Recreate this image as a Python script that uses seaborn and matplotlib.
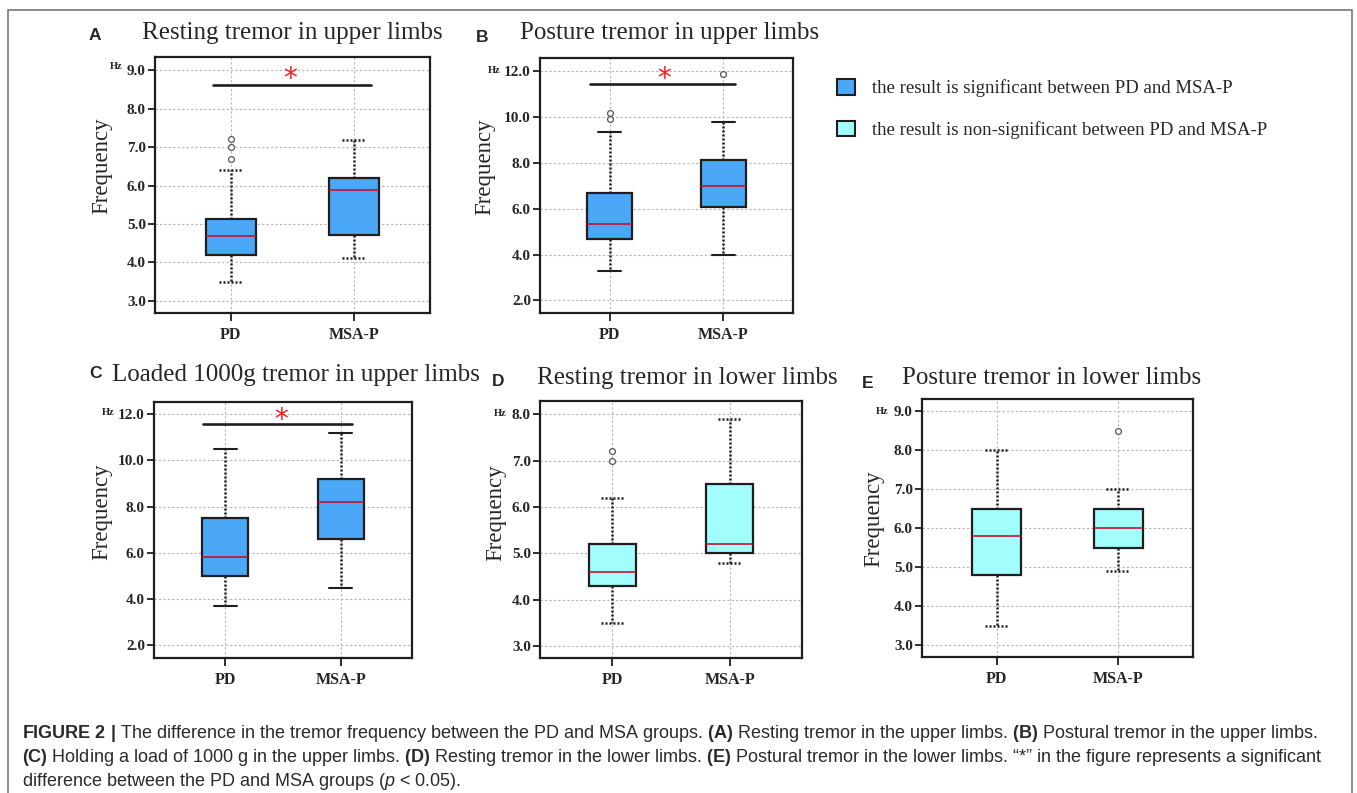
import numpy as np
import pandas as pd
import seaborn as sns
import matplotlib.pyplot as plt
from matplotlib.patches import Patch, Rectangle
from matplotlib.transforms import IdentityTransform

groups = ["PD", "MSA-P"]

# box summaries: [low whisker, Q1, median, Q3, high whisker]
rest_up_pd = [3.5, 4.2, 4.68, 5.14, 6.4]
rest_up_msa = [4.1, 4.7, 5.88, 6.2, 7.2]
rest_up_pd_out = [6.7, 7.0, 7.22]
rest_up_msa_out = []

post_up_pd = [3.3, 4.7, 5.35, 6.7, 9.35]
post_up_msa = [4.0, 6.1, 7.0, 8.15, 9.8]
post_up_pd_out = [9.9, 10.2]
post_up_msa_out = [11.88]

load_up_pd = [3.7, 5.0, 5.8, 7.5, 10.5]
load_up_msa = [4.5, 6.6, 8.2, 9.2, 11.18]
load_up_pd_out = []
load_up_msa_out = []

rest_low_pd = [3.5, 4.3, 4.6, 5.2, 6.2]
rest_low_msa = [4.8, 5.0, 5.2, 6.5, 7.9]
rest_low_pd_out = [7.0, 7.2]
rest_low_msa_out = []

post_low_pd = [3.5, 4.8, 5.8, 6.5, 8.0]
post_low_msa = [4.9, 5.5, 6.0, 6.5, 7.0]
post_low_pd_out = []
post_low_msa_out = [8.5]

titles = ["Resting tremor in upper limbs", "Posture tremor in upper limbs",
          "Loaded 1000g tremor in upper limbs", "Resting tremor in lower limbs",
          "Posture tremor in lower limbs"]
letters = ["A", "B", "C", "D", "E"]
significant = [True, True, True, False, False]
legend_labels = ["the result is significant between PD and MSA-P",
                 "the result is non-significant between PD and MSA-P"]

SIG_COLOR = "#4aa8f7"
NS_COLOR = "#a2fdfd"
LINE = "#1e1e1e"
W, H = 1357, 793

sns.set_style("ticks")
plt.rcParams["font.family"] = ["Liberation Serif", "DejaVu Serif"]
plt.rcParams["mathtext.fontset"] = "custom"
plt.rcParams["mathtext.rm"] = "Liberation Sans"
plt.rcParams["mathtext.bf"] = "Liberation Sans:bold"
plt.rcParams["mathtext.it"] = "Liberation Sans:italic"

fig = plt.figure(figsize=(W / 100, H / 100), dpi=100)

# layout in pixels: axes box (left, top, right, bottom), title centre, letter pos
panels = [
    dict(data=(rest_up_pd, rest_up_msa, rest_up_pd_out, rest_up_msa_out),
         box=(155, 57, 430, 313), ylim=(2.68, 9.35), yticks=np.arange(3, 9.1, 1),
         caps_solid=False, bar=(-0.146, 1.135, 8.62), star=(0.48, 8.78),
         title_xy=(292, 33), letter_xy=(95, 35), hz=(-33, 4), ylab=(-53, 0.575)),
    dict(data=(post_up_pd, post_up_msa, post_up_pd_out, post_up_msa_out),
         box=(540, 58, 793, 313), ylim=(1.45, 12.585), yticks=np.arange(2, 12.1, 2),
         caps_solid=True, bar=(-0.17, 1.105, 11.46), star=(0.48, 11.66),
         title_xy=(670, 33), letter_xy=(482, 37), hz=(-39, 1), ylab=(-55, 0.575)),
    dict(data=(load_up_pd, load_up_msa, load_up_pd_out, load_up_msa_out),
         box=(154, 402, 412, 658), ylim=(1.455, 12.52), yticks=np.arange(2, 12.1, 2),
         caps_solid=True, bar=(-0.19, 1.10, 11.58), star=(0.487, 11.76),
         title_xy=(296, 375), letter_xy=(95, 373), hz=(-39, 2), ylab=(-52, 0.57)),
    dict(data=(rest_low_pd, rest_low_msa, rest_low_pd_out, rest_low_msa_out),
         box=(540, 401, 802, 658), ylim=(2.74, 8.287), yticks=np.arange(3, 8.1, 1),
         caps_solid=False, bar=None, star=None,
         title_xy=(687, 378), letter_xy=(498, 381), hz=(-33, 1), ylab=(-44, 0.566)),
    dict(data=(post_low_pd, post_low_msa, post_low_pd_out, post_low_msa_out),
         box=(922, 399, 1193, 657), ylim=(2.70, 9.32), yticks=np.arange(3, 9.1, 1),
         caps_solid=False, bar=None, star=None,
         title_xy=(1052, 378), letter_xy=(868, 383), hz=(-34, 0), ylab=(-48, 0.535)),
]

dotted = (0, (0.8, 0.8))

for i, p in enumerate(panels):
    l, t, r, b = p["box"]
    ax = fig.add_axes([l / W, 1 - b / H, (r - l) / W, (b - t) / H])
    pd_vals, msa_vals, pd_out, msa_out = p["data"]
    df = pd.DataFrame({"group": ["PD"] * len(pd_vals) + ["MSA-P"] * len(msa_vals),
                       "value": pd_vals + msa_vals})
    color = SIG_COLOR if significant[i] else NS_COLOR
    cap_style = dict(color=LINE, linewidth=1.5, linestyle="-") if p["caps_solid"] \
        else dict(color=LINE, linewidth=1.8, linestyle=dotted)
    sns.boxplot(data=df, x="group", y="value", order=groups, whis=(0, 100),
                width=0.4, color=color, saturation=1, linecolor=LINE, linewidth=1.6,
                whiskerprops=dict(color=LINE, linewidth=1.8, linestyle=dotted),
                capprops=cap_style,
                medianprops=dict(color="#c8102e", linewidth=1.2),
                boxprops=dict(edgecolor=LINE, linewidth=1.6), ax=ax)
    if pd_out or msa_out:
        out_df = pd.DataFrame({"group": ["PD"] * len(pd_out) + ["MSA-P"] * len(msa_out),
                               "value": pd_out + msa_out})
        sns.stripplot(data=out_df, x="group", y="value", order=groups, jitter=False,
                      color="white", edgecolor="#555555", linewidth=0.9, size=4.2,
                      ax=ax, zorder=5)

    ax.set_xlim(-0.615, 1.615)
    ax.set_ylim(*p["ylim"])
    ax.set_yticks(p["yticks"])
    ax.set_yticklabels([f"{v:.1f}" for v in p["yticks"]])
    ax.set_axisbelow(True)
    ax.grid(True, color="#b4b4b4", linestyle=(0, (2, 2)), linewidth=0.8)
    for s in ax.spines.values():
        s.set_visible(True)
        s.set_linewidth(1.6)
        s.set_color(LINE)
    ax.tick_params(axis="y", length=5, width=1.3, pad=1.5, labelsize=11, color=LINE)
    ax.tick_params(axis="x", length=6, width=1.3, pad=4, labelsize=11.5, color=LINE)
    for lab in ax.get_xticklabels() + ax.get_yticklabels():
        lab.set_fontweight("bold")
    ax.set_xlabel("")
    ax.set_ylabel("Frequency", fontsize=16.5, va="center")
    ax.yaxis.set_label_coords(p["ylab"][0] / (r - l), p["ylab"][1])

    ax.annotate("Hz", xy=(0, p["yticks"][-1]), xycoords=("axes fraction", "data"),
                xytext=(p["hz"][0] * 0.72, p["hz"][1] * 0.72), textcoords="offset points",
                ha="right", va="center", fontsize=7.5, fontweight="bold")

    if p["bar"] is not None:
        x0, x1, yb = p["bar"]
        ax.plot([x0, x1], [yb, yb], color=LINE, linewidth=1.9)
        ax.text(p["star"][0], p["star"][1], "*", color="#ff1a1a", fontsize=20,
                ha="center", va="center", family="DejaVu Sans")

    tx, ty = p["title_xy"]
    fig.text(tx, H - ty, titles[i], transform=IdentityTransform(), fontsize=18,
             ha="center", va="center")
    lx, ly = p["letter_xy"]
    fig.text(lx, H - ly, letters[i], transform=IdentityTransform(), fontsize=12.5,
             fontweight="bold", family="Liberation Sans", ha="center", va="center")

handles = [Patch(facecolor=SIG_COLOR, edgecolor=LINE, linewidth=1.5),
           Patch(facecolor=NS_COLOR, edgecolor=LINE, linewidth=1.5)]
fig.legend(handles, legend_labels, loc="upper left", bbox_to_anchor=(837 / W, 1 - 79 / H),
           frameon=False, fontsize=13.5, handlelength=0.97, handleheight=0.9,
           handletextpad=0.88, labelspacing=1.25, borderpad=0, borderaxespad=0)

caption = [
    r"$\mathbf{FIGURE\ 2\ |}$ The difference in the tremor frequency between the PD and MSA groups. "
    r"$\mathbf{(A)}$ Resting tremor in the upper limbs. $\mathbf{(B)}$ Postural tremor in the upper limbs.",
    r"$\mathbf{(C)}$ Holding a load of 1000 g in the upper limbs. $\mathbf{(D)}$ Resting tremor in the "
    r"lower limbs. $\mathbf{(E)}$ Postural tremor in the lower limbs. “*” in the figure represents a significant",
    r"difference between the PD and MSA groups ($\mathit{p}$ < 0.05).",
]
for k, line in enumerate(caption):
    fig.text(22, H - (734 + 24 * k), line, transform=IdentityTransform(),
             fontsize=13, family="Liberation Sans", color="#2a2a2a", ha="left", va="center")

fig.patches.append(Rectangle((8, -20), 1344, H - 10 + 20, transform=IdentityTransform(),
                             fill=False, edgecolor="#777777", linewidth=1.2))

fig.savefig("out.png", dpi=100)
